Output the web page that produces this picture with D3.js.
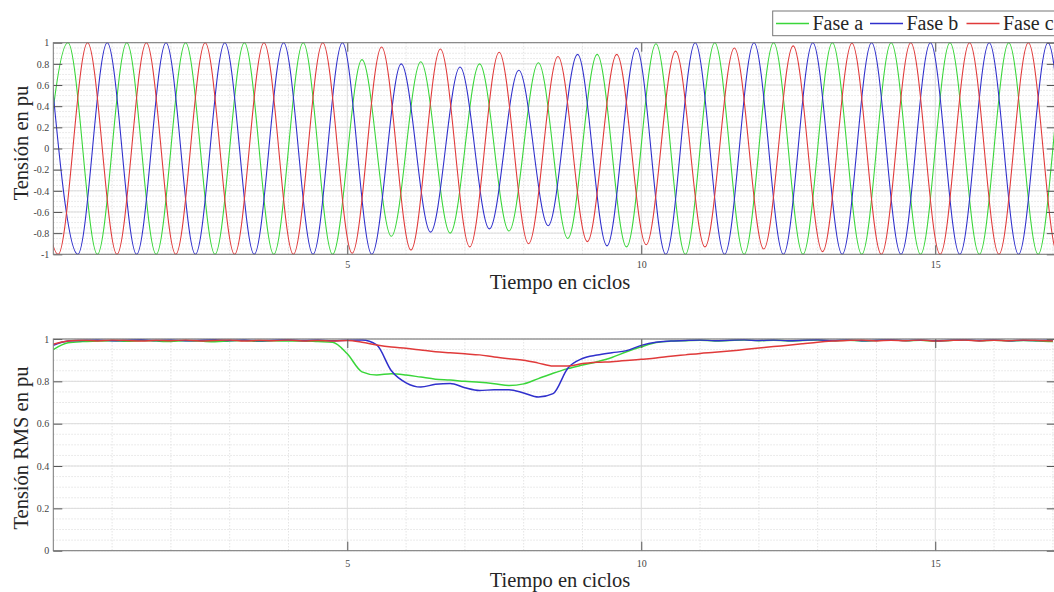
<!DOCTYPE html>
<html>
<head>
<meta charset="utf-8">
<script src="https://cdn.jsdelivr.net/npm/d3@7"></script>
<style>
  body { margin: 0; background: #fff; }
  svg { display: block; font-family: "Liberation Serif", "Times New Roman", serif; }
</style>
</head>
<body>
<div id="chart"></div>
<script>
// ---- values ----
const seriesNames = ["Fase a", "Fase b", "Fase c"]
const seriesColors = ["#3ad63a", "#3030cc", "#e03a3a"]

// top panel: peak / trough of every half cycle, per phase
// first extreme of each phase (in cycles), then one extreme every half cycle
const firstExtreme = [-0.25, -0.083, -0.417]
const halfCycle = 0.5
const extremaA = [-1, 1, -1, 1, -1, 1, -1, 1, -1, 1, -1,
  0.84, -0.83, 0.82, -0.80, 0.80, -0.78, 0.81, -0.85, 0.89, -0.93, 0.99, -1,
  1, -1, 1, -1, 1, -1, 1, -1, 1, -1, 1, -1, 1, -1]
const extremaB = [1, -1, 1, -1, 1, -1, 1, -1, 1, -1, 1,
  -1, 0.80, -0.79, 0.77, -0.76, 0.74, -0.73, 0.89, -0.92, 0.95, -1,
  1, -1, 1, -1, 1, -1, 1, -1, 1, -1, 1, -1, 1, -1, 1]
const extremaC = [1, -1, 1, -1, 1, -1, 1, -1, 1, -1, 1,
  -0.99, 0.96, -0.96, 0.94, -0.93, 0.91, -0.90, 0.87, -0.88, 0.89, -0.91, 0.92,
  -0.93, 0.95, -0.95, 0.97, -0.975, 0.995,
  -1, 1, -1, 1, -1, 1, -1, 1]

// bottom panel: RMS value every quarter cycle
const rmsTime = [0, 0.25, 0.5, 0.75, 1, 1.25, 1.5, 1.75, 2, 2.25, 2.5, 2.75, 3, 3.25, 3.5, 3.75,
  4, 4.25, 4.5, 4.75, 5, 5.25, 5.5, 5.75, 6, 6.25, 6.5, 6.75, 7, 7.25, 7.5, 7.75,
  8, 8.25, 8.5, 8.75, 9, 9.25, 9.5, 9.75, 10, 10.25, 10.5, 10.75, 11, 11.25, 11.5, 11.75,
  12, 12.25, 12.5, 12.75, 13, 13.25, 13.5, 13.75, 14, 14.25, 14.5, 14.75, 15, 15.25, 15.5, 15.75,
  16, 16.25, 16.5, 16.75, 17]
const rmsA = [0.95, 0.982, 0.988, 0.99, 0.992, 0.989, 0.993, 0.99, 0.988, 0.992, 0.99, 0.987, 0.991, 0.993, 0.989, 0.992,
  0.99, 0.991, 0.988, 0.985, 0.93, 0.845, 0.83, 0.836, 0.83, 0.82, 0.81, 0.806, 0.80, 0.796, 0.789, 0.78,
  0.788, 0.813, 0.838, 0.86, 0.877, 0.893, 0.913, 0.94, 0.963, 0.983, 0.99, 0.992, 0.994, 0.991, 0.993, 0.995,
  0.992, 0.994, 0.991, 0.993, 0.995, 0.992, 0.994, 0.991, 0.993, 0.995, 0.992, 0.994, 0.99, 0.993, 0.995, 0.992,
  0.994, 0.991, 0.993, 0.99, 0.988]
const rmsB = [0.97, 0.99, 0.993, 0.995, 0.992, 0.994, 0.996, 0.993, 0.995, 0.992, 0.994, 0.996, 0.993, 0.995, 0.992, 0.994,
  0.996, 0.993, 0.995, 0.992, 0.994, 0.995, 0.972, 0.85, 0.793, 0.773, 0.786, 0.79, 0.77, 0.757, 0.76, 0.76,
  0.745, 0.726, 0.742, 0.862, 0.908, 0.924, 0.935, 0.945, 0.97, 0.985, 0.99, 0.993, 0.995, 0.992, 0.994, 0.996,
  0.993, 0.995, 0.992, 0.994, 0.996, 0.993, 0.995, 0.992, 0.994, 0.996, 0.993, 0.995, 0.992, 0.994, 0.996, 0.993,
  0.995, 0.992, 0.994, 0.993, 0.995]
const rmsC = [0.975, 0.99, 0.994, 0.991, 0.995, 0.993, 0.99, 0.994, 0.992, 0.995, 0.991, 0.993, 0.995, 0.99, 0.994, 0.992,
  0.995, 0.991, 0.993, 0.99, 0.993, 0.985, 0.972, 0.962, 0.956, 0.948, 0.94, 0.935, 0.93, 0.925, 0.915, 0.907,
  0.90, 0.886, 0.872, 0.872, 0.884, 0.89, 0.893, 0.898, 0.904, 0.91, 0.918, 0.925, 0.932, 0.937, 0.943, 0.95,
  0.957, 0.964, 0.971, 0.978, 0.985, 0.99, 0.993, 0.995, 0.991, 0.994, 0.992, 0.995, 0.99, 0.993, 0.995, 0.991,
  0.994, 0.992, 0.995, 0.993, 0.99]

// axes ticks
const xTicks = [5, 10, 15]
const xMinorTicks = [1, 2, 3, 4, 6, 7, 8, 9, 11, 12, 13, 14, 16, 17]
const yTicksWave = [-1, -0.8, -0.6, -0.4, -0.2, 0, 0.2, 0.4, 0.6, 0.8, 1]
const yTicksRms = [0, 0.2, 0.4, 0.6, 0.8, 1]
const xLabel = "Tiempo en ciclos"
const yLabelWave = "Tensión en pu"
const yLabelRms = "Tensión RMS en pu"

// ---- layout ----
const width = 1054
const height = 592
const xMax = 17.05
const left = 53.3
const right = 1055.8
const tickLen = 9

const svg = d3.select("#chart")
  .append("svg")
  .attr("width", width)
  .attr("height", height)
  .attr("viewBox", [0, 0, width, height])

const x = d3.scaleLinear().domain([0, xMax]).range([left, right])

const waveSeries = [extremaA, extremaB, extremaC].map((vals, i) =>
  vals.map((v, k) => ({t: firstExtreme[i] + k * halfCycle, v})))
const rmsSeries = [rmsA, rmsB, rmsC].map(vals =>
  vals.map((v, k) => ({t: rmsTime[k], v})))

drawPanel({
  id: "wave", top: 42.7, bottom: 254.3, domain: [-1, 1],
  ticks: yTicksWave, minorStep: 0.05, series: waveSeries, lineWidth: 1.1,
  yLabel: yLabelWave, yLabelY: 143, xLabelY: 288.5, tickPad: 7
})
drawPanel({
  id: "rms", top: 339, bottom: 550.7, domain: [0, 1],
  ticks: yTicksRms, minorStep: 0.05, series: rmsSeries, lineWidth: 1.5,
  yLabel: yLabelRms, yLabelY: 448, xLabelY: 587, tickPad: 9
})
drawLegend()

function drawPanel(cfg) {
  const y = d3.scaleLinear().domain(cfg.domain).range([cfg.bottom, cfg.top])
  const g = svg.append("g")

  // minor grid (dotted)
  const yMinor = d3.range(Math.round((cfg.domain[1] - cfg.domain[0]) / cfg.minorStep) + 1)
    .map(k => cfg.domain[0] + k * cfg.minorStep)
  g.append("g")
    .selectAll("line")
    .data(yMinor)
    .join("line")
      .attr("x1", left).attr("x2", right)
      .attr("y1", d => y(d)).attr("y2", d => y(d))
      .attr("stroke", "#e4e4e4")
      .attr("stroke-dasharray", "1.5,1.5")
  g.append("g")
    .selectAll("line")
    .data(xMinorTicks)
    .join("line")
      .attr("x1", d => x(d)).attr("x2", d => x(d))
      .attr("y1", cfg.top).attr("y2", cfg.bottom)
      .attr("stroke", "#e4e4e4")
      .attr("stroke-dasharray", "1.5,1.5")

  // major grid
  g.append("g")
    .selectAll("line")
    .data(cfg.ticks)
    .join("line")
      .attr("x1", left).attr("x2", right)
      .attr("y1", d => y(d)).attr("y2", d => y(d))
      .attr("stroke", "#dcdcdc")
  g.append("g")
    .selectAll("line")
    .data(xTicks)
    .join("line")
      .attr("x1", d => x(d)).attr("x2", d => x(d))
      .attr("y1", cfg.top).attr("y2", cfg.bottom)
      .attr("stroke", "#dcdcdc")

  // lines
  svg.append("clipPath")
    .attr("id", "clip-" + cfg.id)
    .append("rect")
      .attr("x", left).attr("y", cfg.top - 1)
      .attr("width", right - left).attr("height", cfg.bottom - cfg.top + 2)

  const line = d3.line()
    .x(d => x(d.t))
    .y(d => y(d.v))
    .curve(d3.curveMonotoneX)

  g.append("g")
    .attr("clip-path", `url(#clip-${cfg.id})`)
    .selectAll("path")
    .data(cfg.series)
    .join("path")
      .attr("d", line)
      .attr("fill", "none")
      .attr("stroke", (d, i) => seriesColors[i])
      .attr("stroke-width", cfg.lineWidth)
      .attr("stroke-linejoin", "round")

  // axes, ticks pointing inward on all four sides
  const fmt = d => String(+d.toFixed(1))
  const axisStyle = sel => {
    sel.select(".domain").remove()
    sel.selectAll(".tick line").attr("stroke", "#555")
    sel.selectAll(".tick text")
      .attr("fill", "#444")
      .style("font-family", "'Liberation Serif', 'Times New Roman', serif")
      .style("font-size", "10px")
  }

  g.append("g")
    .attr("transform", `translate(${left},0)`)
    .call(d3.axisLeft(y).tickValues(cfg.ticks).tickFormat(fmt).tickSize(-tickLen).tickPadding(4))
    .call(axisStyle)
  g.append("g")
    .attr("transform", `translate(${right},0)`)
    .call(d3.axisRight(y).tickValues(cfg.ticks).tickFormat("").tickSize(-tickLen))
    .call(axisStyle)
  g.append("g")
    .attr("transform", `translate(0,${cfg.bottom})`)
    .call(d3.axisBottom(x).tickValues(xTicks).tickFormat(fmt).tickSize(-tickLen).tickPadding(cfg.tickPad))
    .call(axisStyle)
  g.append("g")
    .attr("transform", `translate(0,${cfg.top})`)
    .call(d3.axisTop(x).tickValues(xTicks).tickFormat("").tickSize(-tickLen))
    .call(axisStyle)

  // box
  g.append("rect")
    .attr("x", left).attr("y", cfg.top)
    .attr("width", right - left).attr("height", cfg.bottom - cfg.top)
    .attr("fill", "none")
    .attr("stroke", "#777")

  // labels
  g.append("text")
    .attr("transform", `translate(28,${cfg.yLabelY}) rotate(-90)`)
    .attr("text-anchor", "middle")
    .attr("fill", "#262626")
    .style("font-size", "20.5px")
    .text(cfg.yLabel)

  g.append("text")
    .attr("x", 560)
    .attr("y", cfg.xLabelY)
    .attr("text-anchor", "middle")
    .attr("fill", "#262626")
    .style("font-size", "20.5px")
    .text(xLabel)
}

function drawLegend() {
  const lg = svg.append("g")
  lg.append("rect")
    .attr("x", 772.7).attr("y", 11)
    .attr("width", 300).attr("height", 24.7)
    .attr("fill", "#fff")
    .attr("stroke", "#777")

  const itemX = [776, 870, 966.5]
  const item = lg.selectAll("g.item")
    .data(seriesNames)
    .join("g")
      .attr("class", "item")
      .attr("transform", (d, i) => `translate(${itemX[i]},0)`)

  // legend samples drawn with the same line generator style as the plot
  item.append("path")
    .attr("d", "M0,23.5H33")
    .attr("fill", "none")
    .style("stroke", d => seriesColors[seriesNames.indexOf(d)])
    .style("stroke-width", "1.3px")

  item.append("text")
    .attr("x", 36.5)
    .attr("y", 30)
    .attr("fill", "#262626")
    .style("font-size", "20px")
    .text(d => d)
}
</script>
</body>
</html>
